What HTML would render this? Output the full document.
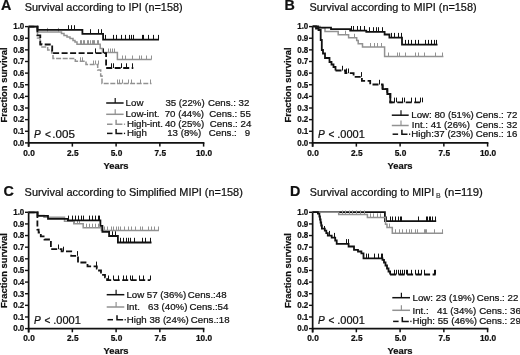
<!DOCTYPE html>
<html><head><meta charset="utf-8"><style>
html,body{margin:0;padding:0;background:#fff;overflow:hidden;}
svg{display:block;will-change:transform;}
text{font-family:"Liberation Sans", sans-serif;fill:#111;stroke:#111;stroke-width:0.22px;}
</style></head><body>
<svg width="520" height="355" viewBox="0 0 520 355">
<rect width="520" height="355" fill="#fff"/>
<g transform="translate(0,0)">
<line x1="28.65" y1="26.0" x2="28.65" y2="146.8" stroke="#111" stroke-width="1.7"/>
<line x1="27.849999999999998" y1="142.9" x2="204.4" y2="142.9" stroke="#111" stroke-width="1.8"/>
<line x1="25.0" y1="142.90" x2="28.65" y2="142.90" stroke="#111" stroke-width="1.4"/>
<text x="24.3" y="145.75" text-anchor="end" font-weight="bold" font-size="8.7" textLength="11.1" lengthAdjust="spacingAndGlyphs">0.0</text>
<line x1="25.0" y1="131.27" x2="28.65" y2="131.27" stroke="#111" stroke-width="1.4"/>
<text x="24.3" y="134.12" text-anchor="end" font-weight="bold" font-size="8.7" textLength="11.1" lengthAdjust="spacingAndGlyphs">0.1</text>
<line x1="25.0" y1="119.64" x2="28.65" y2="119.64" stroke="#111" stroke-width="1.4"/>
<text x="24.3" y="122.49" text-anchor="end" font-weight="bold" font-size="8.7" textLength="11.1" lengthAdjust="spacingAndGlyphs">0.2</text>
<line x1="25.0" y1="108.01" x2="28.65" y2="108.01" stroke="#111" stroke-width="1.4"/>
<text x="24.3" y="110.86" text-anchor="end" font-weight="bold" font-size="8.7" textLength="11.1" lengthAdjust="spacingAndGlyphs">0.3</text>
<line x1="25.0" y1="96.38" x2="28.65" y2="96.38" stroke="#111" stroke-width="1.4"/>
<text x="24.3" y="99.23" text-anchor="end" font-weight="bold" font-size="8.7" textLength="11.1" lengthAdjust="spacingAndGlyphs">0.4</text>
<line x1="25.0" y1="84.75" x2="28.65" y2="84.75" stroke="#111" stroke-width="1.4"/>
<text x="24.3" y="87.60" text-anchor="end" font-weight="bold" font-size="8.7" textLength="11.1" lengthAdjust="spacingAndGlyphs">0.5</text>
<line x1="25.0" y1="73.12" x2="28.65" y2="73.12" stroke="#111" stroke-width="1.4"/>
<text x="24.3" y="75.97" text-anchor="end" font-weight="bold" font-size="8.7" textLength="11.1" lengthAdjust="spacingAndGlyphs">0.6</text>
<line x1="25.0" y1="61.49" x2="28.65" y2="61.49" stroke="#111" stroke-width="1.4"/>
<text x="24.3" y="64.34" text-anchor="end" font-weight="bold" font-size="8.7" textLength="11.1" lengthAdjust="spacingAndGlyphs">0.7</text>
<line x1="25.0" y1="49.86" x2="28.65" y2="49.86" stroke="#111" stroke-width="1.4"/>
<text x="24.3" y="52.71" text-anchor="end" font-weight="bold" font-size="8.7" textLength="11.1" lengthAdjust="spacingAndGlyphs">0.8</text>
<line x1="25.0" y1="38.23" x2="28.65" y2="38.23" stroke="#111" stroke-width="1.4"/>
<text x="24.3" y="41.08" text-anchor="end" font-weight="bold" font-size="8.7" textLength="11.1" lengthAdjust="spacingAndGlyphs">0.9</text>
<line x1="25.0" y1="26.60" x2="28.65" y2="26.60" stroke="#111" stroke-width="1.4"/>
<text x="24.3" y="29.45" text-anchor="end" font-weight="bold" font-size="8.7" textLength="11.1" lengthAdjust="spacingAndGlyphs">1.0</text>
<line x1="28.60" y1="142.9" x2="28.60" y2="146.6" stroke="#111" stroke-width="1.5"/>
<text x="29.00" y="155.5" text-anchor="middle" font-weight="bold" font-size="8.3">0.0</text>
<line x1="72.35" y1="142.9" x2="72.35" y2="146.6" stroke="#111" stroke-width="1.5"/>
<text x="72.75" y="155.5" text-anchor="middle" font-weight="bold" font-size="8.3">2.5</text>
<line x1="116.10" y1="142.9" x2="116.10" y2="146.6" stroke="#111" stroke-width="1.5"/>
<text x="116.50" y="155.5" text-anchor="middle" font-weight="bold" font-size="8.3">5.0</text>
<line x1="159.85" y1="142.9" x2="159.85" y2="146.6" stroke="#111" stroke-width="1.5"/>
<text x="160.25" y="155.5" text-anchor="middle" font-weight="bold" font-size="8.3">7.5</text>
<line x1="203.60" y1="142.9" x2="203.60" y2="146.6" stroke="#111" stroke-width="1.5"/>
<text x="204.00" y="155.5" text-anchor="middle" font-weight="bold" font-size="8.3">10.0</text>
<text x="116.0" y="168.7" text-anchor="middle" font-weight="bold" font-size="9.4">Years</text>
<text transform="translate(6.8,84.9) rotate(-90)" text-anchor="middle" font-weight="bold" font-size="9.4">Fraction survival</text>
</g>
<text x="1.1" y="10.4" font-weight="bold" font-size="14.3">A</text>
<text x="24.7" y="11.0" font-size="10.6" textLength="157.9" lengthAdjust="spacingAndGlyphs">Survival according to IPI (n=158)</text>
<path d="M28.60,26.60 L37.50,26.60 L37.50,38.00 L40.00,38.00 L40.00,44.00 L42.00,44.00 L42.00,47.00 L47.70,47.00 L47.70,50.00 L51.70,50.00 L51.70,53.00 L53.00,53.00 L53.00,58.50 L75.30,58.50 L75.30,61.30 L86.00,61.30 L86.00,64.50 L97.70,64.50 L97.70,70.00 L100.70,70.00 L100.70,76.00 L102.00,76.00 L102.00,83.50 L151.50,83.50" fill="none" stroke="#929292" stroke-width="1.5" stroke-dasharray="5 1.6"/>
<path d="M80.50,61.30 v-4.0 M82.50,61.30 v-4.0" fill="none" stroke="#929292" stroke-width="1.0"/>
<path d="M93.50,64.50 v-4.0 M95.50,64.50 v-4.0 M98.50,64.50 v-4.0" fill="none" stroke="#929292" stroke-width="1.0"/>
<path d="M117.50,83.50 v-4.0 M119.50,83.50 v-4.0 M122.50,83.50 v-4.0 M128.50,83.50 v-4.0 M131.50,83.50 v-4.0 M140.50,83.50 v-4.0 M150.50,83.50 v-4.0" fill="none" stroke="#929292" stroke-width="1.0"/>
<path d="M28.60,26.60 L37.50,26.60 L37.50,31.90 L61.50,31.90 L61.50,33.50 L64.00,33.50 L64.00,35.50 L67.00,35.50 L67.00,37.00 L70.00,37.00 L70.00,38.50 L73.00,38.50 L73.00,40.50 L75.00,40.50 L75.00,42.00 L77.00,42.00 L77.00,44.20 L100.20,44.20 L100.20,48.50 L102.50,48.50 L102.50,52.50 L117.40,52.50 L117.40,59.50 L151.50,59.50" fill="none" stroke="#929292" stroke-width="1.5"/>
<path d="M47.50,31.90 v-4.0 M58.50,31.90 v-4.0" fill="none" stroke="#929292" stroke-width="1.0"/>
<path d="M80.50,44.20 v-4.0 M81.50,44.20 v-4.0 M83.50,44.20 v-4.0 M84.50,44.20 v-4.0 M87.50,44.20 v-4.0 M88.50,44.20 v-4.0 M90.50,44.20 v-4.0 M92.50,44.20 v-4.0 M93.50,44.20 v-4.0 M94.50,44.20 v-4.0 M97.50,44.20 v-4.0 M98.50,44.20 v-4.0" fill="none" stroke="#929292" stroke-width="1.0"/>
<path d="M108.50,52.50 v-4.0 M110.50,52.50 v-4.0 M112.50,52.50 v-4.0 M114.50,52.50 v-4.0" fill="none" stroke="#929292" stroke-width="1.0"/>
<path d="M122.50,59.50 v-4.0 M125.50,59.50 v-4.0 M132.50,59.50 v-4.0 M139.50,59.50 v-4.0 M141.50,59.50 v-4.0 M146.50,59.50 v-4.0 M151.50,59.50 v-4.0" fill="none" stroke="#929292" stroke-width="1.0"/>
<path d="M28.60,26.60 L37.40,26.60 L37.40,35.30 L40.30,35.30 L40.30,44.50 L52.20,44.50 L52.20,53.10 L106.10,53.10 L106.10,68.00 L133.30,68.00" fill="none" stroke="#111" stroke-width="1.8" stroke-dasharray="6 2.5"/>
<path d="M95.50,53.10 v-4.7 M103.50,53.10 v-4.7" fill="none" stroke="#111" stroke-width="1.0"/>
<path d="M111.50,68.00 v-4.7 M113.50,68.00 v-4.7 M121.50,68.00 v-4.7 M126.50,68.00 v-4.7 M132.50,68.00 v-4.7" fill="none" stroke="#111" stroke-width="1.0"/>
<path d="M28.60,26.60 L37.50,26.60 L37.50,29.90 L82.40,29.90 L82.40,33.90 L103.10,33.90 L103.10,39.60 L159.00,39.60" fill="none" stroke="#111" stroke-width="1.8"/>
<path d="M68.50,29.90 v-4.7 M71.50,29.90 v-4.7 M74.50,29.90 v-4.7" fill="none" stroke="#111" stroke-width="1.0"/>
<path d="M90.50,33.90 v-4.7 M98.50,33.90 v-4.7 M101.50,33.90 v-4.7" fill="none" stroke="#111" stroke-width="1.0"/>
<path d="M105.50,39.60 v-4.7 M113.50,39.60 v-4.7 M116.50,39.60 v-4.7 M121.50,39.60 v-4.7 M125.50,39.60 v-4.7 M129.50,39.60 v-4.7 M131.50,39.60 v-4.7 M133.50,39.60 v-4.7 M142.50,39.60 v-4.7 M143.50,39.60 v-4.7 M148.50,39.60 v-4.7 M153.50,39.60 v-4.7 M158.50,39.60 v-4.7" fill="none" stroke="#111" stroke-width="1.0"/>
<line x1="106.2" y1="103.0" x2="123.6" y2="103.0" stroke="#111" stroke-width="1.5"/>
<line x1="115.2" y1="103.0" x2="115.2" y2="98.0" stroke="#111" stroke-width="1.2"/>
<text transform="translate(125.6,106.3) scale(1.0,1)" font-size="9.7">Low</text>
<text transform="translate(165.4,106.3) scale(1.0,1)" font-size="9.7">35 (22%)</text>
<text transform="translate(207.9,106.3) scale(1.0,1)" font-size="9.7">Cens.: 32</text>
<line x1="106.2" y1="114.3" x2="123.6" y2="114.3" stroke="#929292" stroke-width="1.5"/>
<line x1="115.2" y1="114.3" x2="115.2" y2="109.3" stroke="#929292" stroke-width="1.2"/>
<text transform="translate(125.6,116.9) scale(1.0,1)" font-size="9.7">Low-int.</text>
<text transform="translate(164.7,116.9) scale(1.0,1)" font-size="9.7">70 (44%)</text>
<text transform="translate(209.3,116.9) scale(1.0,1)" font-size="9.7">Cens.: 55</text>
<line x1="107.0" y1="124.25" x2="112.5" y2="124.25" stroke="#929292" stroke-width="1.5"/>
<path d="M116.10000000000001,119.85 V124.25 H122.39999999999999" fill="none" stroke="#929292" stroke-width="1.5"/>
<rect x="123.89999999999999" y="123.55" width="1.2" height="1.4" fill="#929292"/>
<text transform="translate(126.9,126.5) scale(1.0,1)" font-size="9.7">High-int.</text>
<text transform="translate(164.9,126.5) scale(1.0,1)" font-size="9.7">40 (25%)</text>
<text transform="translate(209.8,126.5) scale(1.0,1)" font-size="9.7">Cens.: 24</text>
<line x1="107.0" y1="133.4" x2="112.5" y2="133.4" stroke="#111" stroke-width="1.5"/>
<path d="M116.10000000000001,129.0 V133.4 H122.39999999999999" fill="none" stroke="#111" stroke-width="1.5"/>
<rect x="123.89999999999999" y="132.70000000000002" width="1.2" height="1.4" fill="#111"/>
<text transform="translate(126.9,136.1) scale(1.0,1)" font-size="9.7">High</text>
<text transform="translate(167.2,136.1) scale(1.0,1)" font-size="9.7">13 (8%)</text>
<text transform="translate(208.8,136.1) scale(1.0,1)" font-size="9.7">Cens.:</text>
<text transform="translate(250.1,136.1) scale(1.0,1)" font-size="9.7" text-anchor="end">9</text>
<text x="34.0" y="138.4" font-size="10.1" font-style="italic">P</text><text x="44.9" y="138.4" font-size="10.1">&lt;</text><text x="52.3" y="138.4" font-size="10.4" textLength="22.6" lengthAdjust="spacingAndGlyphs">.005</text>
<g transform="translate(284.0,0)">
<line x1="28.65" y1="26.0" x2="28.65" y2="146.8" stroke="#111" stroke-width="1.7"/>
<line x1="27.849999999999998" y1="142.9" x2="204.4" y2="142.9" stroke="#111" stroke-width="1.8"/>
<line x1="25.0" y1="142.90" x2="28.65" y2="142.90" stroke="#111" stroke-width="1.4"/>
<text x="24.3" y="145.75" text-anchor="end" font-weight="bold" font-size="8.7" textLength="11.1" lengthAdjust="spacingAndGlyphs">0.0</text>
<line x1="25.0" y1="131.27" x2="28.65" y2="131.27" stroke="#111" stroke-width="1.4"/>
<text x="24.3" y="134.12" text-anchor="end" font-weight="bold" font-size="8.7" textLength="11.1" lengthAdjust="spacingAndGlyphs">0.1</text>
<line x1="25.0" y1="119.64" x2="28.65" y2="119.64" stroke="#111" stroke-width="1.4"/>
<text x="24.3" y="122.49" text-anchor="end" font-weight="bold" font-size="8.7" textLength="11.1" lengthAdjust="spacingAndGlyphs">0.2</text>
<line x1="25.0" y1="108.01" x2="28.65" y2="108.01" stroke="#111" stroke-width="1.4"/>
<text x="24.3" y="110.86" text-anchor="end" font-weight="bold" font-size="8.7" textLength="11.1" lengthAdjust="spacingAndGlyphs">0.3</text>
<line x1="25.0" y1="96.38" x2="28.65" y2="96.38" stroke="#111" stroke-width="1.4"/>
<text x="24.3" y="99.23" text-anchor="end" font-weight="bold" font-size="8.7" textLength="11.1" lengthAdjust="spacingAndGlyphs">0.4</text>
<line x1="25.0" y1="84.75" x2="28.65" y2="84.75" stroke="#111" stroke-width="1.4"/>
<text x="24.3" y="87.60" text-anchor="end" font-weight="bold" font-size="8.7" textLength="11.1" lengthAdjust="spacingAndGlyphs">0.5</text>
<line x1="25.0" y1="73.12" x2="28.65" y2="73.12" stroke="#111" stroke-width="1.4"/>
<text x="24.3" y="75.97" text-anchor="end" font-weight="bold" font-size="8.7" textLength="11.1" lengthAdjust="spacingAndGlyphs">0.6</text>
<line x1="25.0" y1="61.49" x2="28.65" y2="61.49" stroke="#111" stroke-width="1.4"/>
<text x="24.3" y="64.34" text-anchor="end" font-weight="bold" font-size="8.7" textLength="11.1" lengthAdjust="spacingAndGlyphs">0.7</text>
<line x1="25.0" y1="49.86" x2="28.65" y2="49.86" stroke="#111" stroke-width="1.4"/>
<text x="24.3" y="52.71" text-anchor="end" font-weight="bold" font-size="8.7" textLength="11.1" lengthAdjust="spacingAndGlyphs">0.8</text>
<line x1="25.0" y1="38.23" x2="28.65" y2="38.23" stroke="#111" stroke-width="1.4"/>
<text x="24.3" y="41.08" text-anchor="end" font-weight="bold" font-size="8.7" textLength="11.1" lengthAdjust="spacingAndGlyphs">0.9</text>
<line x1="25.0" y1="26.60" x2="28.65" y2="26.60" stroke="#111" stroke-width="1.4"/>
<text x="24.3" y="29.45" text-anchor="end" font-weight="bold" font-size="8.7" textLength="11.1" lengthAdjust="spacingAndGlyphs">1.0</text>
<line x1="28.60" y1="142.9" x2="28.60" y2="146.6" stroke="#111" stroke-width="1.5"/>
<text x="29.00" y="155.5" text-anchor="middle" font-weight="bold" font-size="8.3">0.0</text>
<line x1="72.35" y1="142.9" x2="72.35" y2="146.6" stroke="#111" stroke-width="1.5"/>
<text x="72.75" y="155.5" text-anchor="middle" font-weight="bold" font-size="8.3">2.5</text>
<line x1="116.10" y1="142.9" x2="116.10" y2="146.6" stroke="#111" stroke-width="1.5"/>
<text x="116.50" y="155.5" text-anchor="middle" font-weight="bold" font-size="8.3">5.0</text>
<line x1="159.85" y1="142.9" x2="159.85" y2="146.6" stroke="#111" stroke-width="1.5"/>
<text x="160.25" y="155.5" text-anchor="middle" font-weight="bold" font-size="8.3">7.5</text>
<line x1="203.60" y1="142.9" x2="203.60" y2="146.6" stroke="#111" stroke-width="1.5"/>
<text x="204.00" y="155.5" text-anchor="middle" font-weight="bold" font-size="8.3">10.0</text>
<text x="116.0" y="168.7" text-anchor="middle" font-weight="bold" font-size="9.4">Years</text>
<text transform="translate(6.8,84.9) rotate(-90)" text-anchor="middle" font-weight="bold" font-size="9.4">Fraction survival</text>
</g>
<text x="284.4" y="10.0" font-weight="bold" font-size="14.3">B</text>
<text x="309.4" y="10.8" font-size="10.6" textLength="167.2" lengthAdjust="spacingAndGlyphs">Survival according to MIPI (n=158)</text>
<path d="M312.60,26.40 L320.00,26.40 L320.00,27.80 L325.00,27.80 L325.00,31.50 L338.20,31.50 L338.20,34.70 L348.60,34.70 L348.60,37.80 L356.70,37.80 L356.70,40.60 L358.20,40.60 L358.20,43.70 L362.50,43.70 L362.50,47.00 L384.60,47.00 L384.60,56.50 L443.40,56.50" fill="none" stroke="#929292" stroke-width="1.5"/>
<path d="M345.50,34.70 v-4.0" fill="none" stroke="#929292" stroke-width="1.0"/>
<path d="M354.50,37.80 v-4.0" fill="none" stroke="#929292" stroke-width="1.0"/>
<path d="M370.50,47.00 v-4.0 M374.50,47.00 v-4.0 M377.50,47.00 v-4.0 M381.50,47.00 v-4.0" fill="none" stroke="#929292" stroke-width="1.0"/>
<path d="M388.50,56.50 v-4.0 M397.50,56.50 v-4.0 M399.50,56.50 v-4.0 M405.50,56.50 v-4.0 M415.50,56.50 v-4.0 M418.50,56.50 v-4.0 M424.50,56.50 v-4.0 M435.50,56.50 v-4.0 M442.50,56.50 v-4.0" fill="none" stroke="#929292" stroke-width="1.0"/>
<path d="M312.60,26.40 L316.00,26.40 L316.00,28.50 L318.50,28.50 L318.50,30.00 L320.70,30.00 L320.70,40.00 L321.80,40.00 L321.80,50.00 L323.00,50.00 L323.00,53.50 L325.00,53.50 L325.00,58.00 L329.50,58.00 L329.50,62.00 L331.50,62.00 L331.50,64.50 L333.50,64.50 L333.50,67.00 L335.50,67.00 L335.50,70.50" fill="none" stroke="#111" stroke-width="1.8"/>
<path d="M335.50,70.50 L345.30,70.50 L345.30,73.20 L353.60,73.20 L353.60,76.80 L361.90,76.80 L361.90,80.90 L370.20,80.90 L370.20,84.50 L382.60,84.50 L382.60,89.20 L387.30,89.20 L387.30,94.00 L390.30,94.00 L390.30,102.30 L422.50,102.30" fill="none" stroke="#111" stroke-width="1.8" stroke-dasharray="6 2.5"/>
<path d="M342.50,70.50 v-4.7" fill="none" stroke="#111" stroke-width="1.0"/>
<path d="M346.50,73.20 v-4.7 M348.50,73.20 v-4.7" fill="none" stroke="#111" stroke-width="1.0"/>
<path d="M361.50,76.80 v-4.7" fill="none" stroke="#111" stroke-width="1.0"/>
<path d="M379.50,84.50 v-4.7" fill="none" stroke="#111" stroke-width="1.0"/>
<path d="M394.50,102.30 v-4.7 M396.50,102.30 v-4.7 M402.50,102.30 v-4.7 M404.50,102.30 v-4.7 M411.50,102.30 v-4.7 M415.50,102.30 v-4.7 M420.50,102.30 v-4.7 M422.50,102.30 v-4.7" fill="none" stroke="#111" stroke-width="1.0"/>
<path d="M382.60,84.50 L382.60,89.20 L387.30,89.20 L387.30,94.00 L390.30,94.00 L390.30,102.30 L392.50,102.30" fill="none" stroke="#111" stroke-width="1.8"/>
<path d="M312.60,26.40 L318.00,26.40 L318.00,27.60 L331.00,27.60 L331.00,29.10 L350.20,29.10 L350.20,30.70 L366.30,30.70 L366.30,31.90 L384.60,31.90 L384.60,34.50 L389.40,34.50 L389.40,37.60 L402.00,37.60 L402.00,44.60 L437.50,44.60" fill="none" stroke="#111" stroke-width="1.8"/>
<path d="M351.50,30.70 v-4.7 M353.50,30.70 v-4.7 M357.50,30.70 v-4.7 M360.50,30.70 v-4.7 M364.50,30.70 v-4.7" fill="none" stroke="#111" stroke-width="1.0"/>
<path d="M369.50,31.90 v-4.7 M373.50,31.90 v-4.7 M376.50,31.90 v-4.7 M378.50,31.90 v-4.7 M382.50,31.90 v-4.7" fill="none" stroke="#111" stroke-width="1.0"/>
<path d="M391.50,37.60 v-4.7 M394.50,37.60 v-4.7 M398.50,37.60 v-4.7 M401.50,37.60 v-4.7" fill="none" stroke="#111" stroke-width="1.0"/>
<path d="M405.50,44.60 v-4.7 M408.50,44.60 v-4.7 M411.50,44.60 v-4.7 M415.50,44.60 v-4.7 M418.50,44.60 v-4.7 M425.50,44.60 v-4.7 M428.50,44.60 v-4.7 M431.50,44.60 v-4.7 M434.50,44.60 v-4.7 M436.50,44.60 v-4.7" fill="none" stroke="#111" stroke-width="1.0"/>
<line x1="391.8" y1="115.2" x2="408.7" y2="115.2" stroke="#111" stroke-width="1.5"/>
<line x1="401.0" y1="115.2" x2="401.0" y2="110.2" stroke="#111" stroke-width="1.2"/>
<text transform="translate(411.3,118.3) scale(1.0,1)" font-size="9.7">Low: 80 (51%)</text>
<text transform="translate(475.8,118.3) scale(1.0,1)" font-size="9.7">Cens.: 72</text>
<line x1="391.8" y1="125.5" x2="408.7" y2="125.5" stroke="#929292" stroke-width="1.5"/>
<line x1="401.0" y1="125.5" x2="401.0" y2="120.5" stroke="#929292" stroke-width="1.2"/>
<text transform="translate(411.8,128.4) scale(1.0,1)" font-size="9.7">Int.: 41 (26%)</text>
<text transform="translate(475.8,128.4) scale(1.0,1)" font-size="9.7">Cens.: 32</text>
<line x1="392.6" y1="134.2" x2="398.1" y2="134.2" stroke="#111" stroke-width="1.5"/>
<path d="M401.9,129.79999999999998 V134.2 H407.5" fill="none" stroke="#111" stroke-width="1.5"/>
<rect x="409.0" y="133.5" width="1.2" height="1.4" fill="#111"/>
<text transform="translate(411.3,137.0) scale(1.0,1)" font-size="9.7">High:37 (23%)</text>
<text transform="translate(475.8,137.0) scale(1.0,1)" font-size="9.7">Cens.: 16</text>
<text x="318.0" y="138.4" font-size="10.1" font-style="italic">P</text><text x="328.4" y="138.4" font-size="10.1">&lt;</text><text x="337.2" y="138.4" font-size="10.4" textLength="27.6" lengthAdjust="spacingAndGlyphs">.0001</text>
<g transform="translate(0,185.7)">
<line x1="28.65" y1="26.0" x2="28.65" y2="146.8" stroke="#111" stroke-width="1.7"/>
<line x1="27.849999999999998" y1="142.9" x2="204.4" y2="142.9" stroke="#111" stroke-width="1.8"/>
<line x1="25.0" y1="142.90" x2="28.65" y2="142.90" stroke="#111" stroke-width="1.4"/>
<text x="24.3" y="145.75" text-anchor="end" font-weight="bold" font-size="8.7" textLength="11.1" lengthAdjust="spacingAndGlyphs">0.0</text>
<line x1="25.0" y1="131.27" x2="28.65" y2="131.27" stroke="#111" stroke-width="1.4"/>
<text x="24.3" y="134.12" text-anchor="end" font-weight="bold" font-size="8.7" textLength="11.1" lengthAdjust="spacingAndGlyphs">0.1</text>
<line x1="25.0" y1="119.64" x2="28.65" y2="119.64" stroke="#111" stroke-width="1.4"/>
<text x="24.3" y="122.49" text-anchor="end" font-weight="bold" font-size="8.7" textLength="11.1" lengthAdjust="spacingAndGlyphs">0.2</text>
<line x1="25.0" y1="108.01" x2="28.65" y2="108.01" stroke="#111" stroke-width="1.4"/>
<text x="24.3" y="110.86" text-anchor="end" font-weight="bold" font-size="8.7" textLength="11.1" lengthAdjust="spacingAndGlyphs">0.3</text>
<line x1="25.0" y1="96.38" x2="28.65" y2="96.38" stroke="#111" stroke-width="1.4"/>
<text x="24.3" y="99.23" text-anchor="end" font-weight="bold" font-size="8.7" textLength="11.1" lengthAdjust="spacingAndGlyphs">0.4</text>
<line x1="25.0" y1="84.75" x2="28.65" y2="84.75" stroke="#111" stroke-width="1.4"/>
<text x="24.3" y="87.60" text-anchor="end" font-weight="bold" font-size="8.7" textLength="11.1" lengthAdjust="spacingAndGlyphs">0.5</text>
<line x1="25.0" y1="73.12" x2="28.65" y2="73.12" stroke="#111" stroke-width="1.4"/>
<text x="24.3" y="75.97" text-anchor="end" font-weight="bold" font-size="8.7" textLength="11.1" lengthAdjust="spacingAndGlyphs">0.6</text>
<line x1="25.0" y1="61.49" x2="28.65" y2="61.49" stroke="#111" stroke-width="1.4"/>
<text x="24.3" y="64.34" text-anchor="end" font-weight="bold" font-size="8.7" textLength="11.1" lengthAdjust="spacingAndGlyphs">0.7</text>
<line x1="25.0" y1="49.86" x2="28.65" y2="49.86" stroke="#111" stroke-width="1.4"/>
<text x="24.3" y="52.71" text-anchor="end" font-weight="bold" font-size="8.7" textLength="11.1" lengthAdjust="spacingAndGlyphs">0.8</text>
<line x1="25.0" y1="38.23" x2="28.65" y2="38.23" stroke="#111" stroke-width="1.4"/>
<text x="24.3" y="41.08" text-anchor="end" font-weight="bold" font-size="8.7" textLength="11.1" lengthAdjust="spacingAndGlyphs">0.9</text>
<line x1="25.0" y1="26.60" x2="28.65" y2="26.60" stroke="#111" stroke-width="1.4"/>
<text x="24.3" y="29.45" text-anchor="end" font-weight="bold" font-size="8.7" textLength="11.1" lengthAdjust="spacingAndGlyphs">1.0</text>
<line x1="28.60" y1="142.9" x2="28.60" y2="146.6" stroke="#111" stroke-width="1.5"/>
<text x="29.00" y="155.5" text-anchor="middle" font-weight="bold" font-size="8.3">0.0</text>
<line x1="72.35" y1="142.9" x2="72.35" y2="146.6" stroke="#111" stroke-width="1.5"/>
<text x="72.75" y="155.5" text-anchor="middle" font-weight="bold" font-size="8.3">2.5</text>
<line x1="116.10" y1="142.9" x2="116.10" y2="146.6" stroke="#111" stroke-width="1.5"/>
<text x="116.50" y="155.5" text-anchor="middle" font-weight="bold" font-size="8.3">5.0</text>
<line x1="159.85" y1="142.9" x2="159.85" y2="146.6" stroke="#111" stroke-width="1.5"/>
<text x="160.25" y="155.5" text-anchor="middle" font-weight="bold" font-size="8.3">7.5</text>
<line x1="203.60" y1="142.9" x2="203.60" y2="146.6" stroke="#111" stroke-width="1.5"/>
<text x="204.00" y="155.5" text-anchor="middle" font-weight="bold" font-size="8.3">10.0</text>
<text x="116.0" y="168.7" text-anchor="middle" font-weight="bold" font-size="9.4">Years</text>
<text transform="translate(6.8,84.9) rotate(-90)" text-anchor="middle" font-weight="bold" font-size="9.4">Fraction survival</text>
</g>
<text x="3.4" y="195.8" font-weight="bold" font-size="14.3">C</text>
<text x="24.6" y="196.2" font-size="10.6" textLength="218.2" lengthAdjust="spacingAndGlyphs">Survival according to Simplified MIPI (n=158)</text>
<path d="M28.60,212.30 L37.40,212.30 L37.40,229.70 L38.60,229.70 L38.60,232.50 L40.80,232.50 L40.80,236.40 L44.50,236.40 L44.50,239.50 L50.90,239.50 L50.90,249.20 L61.60,249.20 L61.60,251.40 L71.20,251.40 L71.20,255.80 L78.00,255.80 L78.00,262.50 L87.50,262.50 L87.50,266.30 L96.80,266.30 L96.80,268.60 L99.00,268.60 L99.00,270.50 L101.00,270.50 L101.00,272.60 L103.00,272.60 L103.00,274.80 L105.00,274.80 L105.00,277.30 L107.10,277.30 L107.10,280.20 L150.20,280.20" fill="none" stroke="#111" stroke-width="1.8" stroke-dasharray="6 2.5"/>
<path d="M58.50,249.20 v-4.7" fill="none" stroke="#111" stroke-width="1.0"/>
<path d="M63.50,251.40 v-4.7" fill="none" stroke="#111" stroke-width="1.0"/>
<path d="M77.50,255.80 v-4.7" fill="none" stroke="#111" stroke-width="1.0"/>
<path d="M96.50,266.30 v-4.7" fill="none" stroke="#111" stroke-width="1.0"/>
<path d="M108.50,280.20 v-4.7 M113.50,280.20 v-4.7 M118.50,280.20 v-4.7 M123.50,280.20 v-4.7 M126.50,280.20 v-4.7 M130.50,280.20 v-4.7 M132.50,280.20 v-4.7 M139.50,280.20 v-4.7 M143.50,280.20 v-4.7 M150.50,280.20 v-4.7" fill="none" stroke="#111" stroke-width="1.0"/>
<path d="M28.60,212.30 L37.60,212.30 L37.60,215.50 L44.00,215.50 L44.00,217.20 L64.50,217.20 L64.50,221.30 L73.80,221.30 L73.80,223.80 L83.20,223.80 L83.20,227.70 L101.40,227.70 L101.40,230.50 L159.00,230.50" fill="none" stroke="#929292" stroke-width="1.5"/>
<path d="M74.50,223.80 v-4.0 M77.50,223.80 v-4.0 M79.50,223.80 v-4.0" fill="none" stroke="#929292" stroke-width="1.0"/>
<path d="M86.50,227.70 v-4.0 M89.50,227.70 v-4.0 M92.50,227.70 v-4.0 M95.50,227.70 v-4.0 M98.50,227.70 v-4.0" fill="none" stroke="#929292" stroke-width="1.0"/>
<path d="M104.50,230.50 v-4.0 M107.50,230.50 v-4.0 M111.50,230.50 v-4.0 M113.50,230.50 v-4.0 M116.50,230.50 v-4.0 M118.50,230.50 v-4.0 M120.50,230.50 v-4.0 M124.50,230.50 v-4.0 M128.50,230.50 v-4.0 M131.50,230.50 v-4.0 M135.50,230.50 v-4.0 M140.50,230.50 v-4.0 M142.50,230.50 v-4.0 M148.50,230.50 v-4.0 M151.50,230.50 v-4.0 M154.50,230.50 v-4.0 M158.50,230.50 v-4.0" fill="none" stroke="#929292" stroke-width="1.0"/>
<path d="M28.60,212.30 L37.60,212.30 L37.60,215.80 L48.00,215.80 L48.00,218.90 L67.90,218.90 L67.90,220.30 L100.40,220.30 L100.40,225.80 L102.40,225.80 L102.40,231.80 L109.10,231.80 L109.10,236.00 L117.90,236.00 L117.90,242.50 L151.50,242.50" fill="none" stroke="#111" stroke-width="1.8"/>
<path d="M68.50,220.30 v-4.7 M72.50,220.30 v-4.7 M75.50,220.30 v-4.7 M78.50,220.30 v-4.7 M81.50,220.30 v-4.7 M83.50,220.30 v-4.7 M89.50,220.30 v-4.7 M92.50,220.30 v-4.7 M95.50,220.30 v-4.7 M98.50,220.30 v-4.7 M99.50,220.30 v-4.7" fill="none" stroke="#111" stroke-width="1.0"/>
<path d="M112.50,236.00 v-4.7 M115.50,236.00 v-4.7" fill="none" stroke="#111" stroke-width="1.0"/>
<path d="M120.50,242.50 v-4.7 M123.50,242.50 v-4.7 M126.50,242.50 v-4.7 M128.50,242.50 v-4.7 M130.50,242.50 v-4.7 M134.50,242.50 v-4.7 M142.50,242.50 v-4.7 M145.50,242.50 v-4.7 M150.50,242.50 v-4.7" fill="none" stroke="#111" stroke-width="1.0"/>
<line x1="106.7" y1="294.7" x2="124.3" y2="294.7" stroke="#111" stroke-width="1.5"/>
<line x1="116.1" y1="294.7" x2="116.1" y2="289.7" stroke="#111" stroke-width="1.2"/>
<text transform="translate(126.4,297.8) scale(1.0,1)" font-size="9.7">Low 57 (36%)</text>
<text transform="translate(187.8,297.8) scale(1.0,1)" font-size="9.7">Cens.:48</text>
<line x1="106.7" y1="307.0" x2="124.3" y2="307.0" stroke="#929292" stroke-width="1.5"/>
<line x1="116.1" y1="307.0" x2="116.1" y2="302.0" stroke="#929292" stroke-width="1.2"/>
<text transform="translate(126.4,309.7) scale(1.0,1)" font-size="9.7">Int.</text>
<text transform="translate(148.1,309.7) scale(1.0,1)" font-size="9.7">63 (40%)</text>
<text transform="translate(189.6,309.7) scale(1.0,1)" font-size="9.7">Cens.:54</text>
<line x1="107.5" y1="319.7" x2="113.0" y2="319.7" stroke="#111" stroke-width="1.5"/>
<path d="M117.0,315.3 V319.7 H123.1" fill="none" stroke="#111" stroke-width="1.5"/>
<rect x="124.6" y="319.0" width="1.2" height="1.4" fill="#111"/>
<text transform="translate(126.8,323.0) scale(1.0,1)" font-size="9.7">High 38 (24%)</text>
<text transform="translate(190.8,323.0) scale(1.0,1)" font-size="9.7">Cens.:18</text>
<text x="34.0" y="324.1" font-size="10.1" font-style="italic">P</text><text x="44.4" y="324.1" font-size="10.1">&lt;</text><text x="53.2" y="324.1" font-size="10.4" textLength="27.6" lengthAdjust="spacingAndGlyphs">.0001</text>
<g transform="translate(284.0,185.7)">
<line x1="28.65" y1="26.0" x2="28.65" y2="146.8" stroke="#111" stroke-width="1.7"/>
<line x1="27.849999999999998" y1="142.9" x2="204.4" y2="142.9" stroke="#111" stroke-width="1.8"/>
<line x1="25.0" y1="142.90" x2="28.65" y2="142.90" stroke="#111" stroke-width="1.4"/>
<text x="24.3" y="145.75" text-anchor="end" font-weight="bold" font-size="8.7" textLength="11.1" lengthAdjust="spacingAndGlyphs">0.0</text>
<line x1="25.0" y1="131.27" x2="28.65" y2="131.27" stroke="#111" stroke-width="1.4"/>
<text x="24.3" y="134.12" text-anchor="end" font-weight="bold" font-size="8.7" textLength="11.1" lengthAdjust="spacingAndGlyphs">0.1</text>
<line x1="25.0" y1="119.64" x2="28.65" y2="119.64" stroke="#111" stroke-width="1.4"/>
<text x="24.3" y="122.49" text-anchor="end" font-weight="bold" font-size="8.7" textLength="11.1" lengthAdjust="spacingAndGlyphs">0.2</text>
<line x1="25.0" y1="108.01" x2="28.65" y2="108.01" stroke="#111" stroke-width="1.4"/>
<text x="24.3" y="110.86" text-anchor="end" font-weight="bold" font-size="8.7" textLength="11.1" lengthAdjust="spacingAndGlyphs">0.3</text>
<line x1="25.0" y1="96.38" x2="28.65" y2="96.38" stroke="#111" stroke-width="1.4"/>
<text x="24.3" y="99.23" text-anchor="end" font-weight="bold" font-size="8.7" textLength="11.1" lengthAdjust="spacingAndGlyphs">0.4</text>
<line x1="25.0" y1="84.75" x2="28.65" y2="84.75" stroke="#111" stroke-width="1.4"/>
<text x="24.3" y="87.60" text-anchor="end" font-weight="bold" font-size="8.7" textLength="11.1" lengthAdjust="spacingAndGlyphs">0.5</text>
<line x1="25.0" y1="73.12" x2="28.65" y2="73.12" stroke="#111" stroke-width="1.4"/>
<text x="24.3" y="75.97" text-anchor="end" font-weight="bold" font-size="8.7" textLength="11.1" lengthAdjust="spacingAndGlyphs">0.6</text>
<line x1="25.0" y1="61.49" x2="28.65" y2="61.49" stroke="#111" stroke-width="1.4"/>
<text x="24.3" y="64.34" text-anchor="end" font-weight="bold" font-size="8.7" textLength="11.1" lengthAdjust="spacingAndGlyphs">0.7</text>
<line x1="25.0" y1="49.86" x2="28.65" y2="49.86" stroke="#111" stroke-width="1.4"/>
<text x="24.3" y="52.71" text-anchor="end" font-weight="bold" font-size="8.7" textLength="11.1" lengthAdjust="spacingAndGlyphs">0.8</text>
<line x1="25.0" y1="38.23" x2="28.65" y2="38.23" stroke="#111" stroke-width="1.4"/>
<text x="24.3" y="41.08" text-anchor="end" font-weight="bold" font-size="8.7" textLength="11.1" lengthAdjust="spacingAndGlyphs">0.9</text>
<line x1="25.0" y1="26.60" x2="28.65" y2="26.60" stroke="#111" stroke-width="1.4"/>
<text x="24.3" y="29.45" text-anchor="end" font-weight="bold" font-size="8.7" textLength="11.1" lengthAdjust="spacingAndGlyphs">1.0</text>
<line x1="28.60" y1="142.9" x2="28.60" y2="146.6" stroke="#111" stroke-width="1.5"/>
<text x="29.00" y="155.5" text-anchor="middle" font-weight="bold" font-size="8.3">0.0</text>
<line x1="72.35" y1="142.9" x2="72.35" y2="146.6" stroke="#111" stroke-width="1.5"/>
<text x="72.75" y="155.5" text-anchor="middle" font-weight="bold" font-size="8.3">2.5</text>
<line x1="116.10" y1="142.9" x2="116.10" y2="146.6" stroke="#111" stroke-width="1.5"/>
<text x="116.50" y="155.5" text-anchor="middle" font-weight="bold" font-size="8.3">5.0</text>
<line x1="159.85" y1="142.9" x2="159.85" y2="146.6" stroke="#111" stroke-width="1.5"/>
<text x="160.25" y="155.5" text-anchor="middle" font-weight="bold" font-size="8.3">7.5</text>
<line x1="203.60" y1="142.9" x2="203.60" y2="146.6" stroke="#111" stroke-width="1.5"/>
<text x="204.00" y="155.5" text-anchor="middle" font-weight="bold" font-size="8.3">10.0</text>
<text x="116.0" y="168.7" text-anchor="middle" font-weight="bold" font-size="9.4">Years</text>
<text transform="translate(6.8,84.9) rotate(-90)" text-anchor="middle" font-weight="bold" font-size="9.4">Fraction survival</text>
</g>
<text x="289.9" y="195.6" font-weight="bold" font-size="14.3">D</text>
<text x="309.8" y="196.2" font-size="10.6" textLength="124.4" lengthAdjust="spacingAndGlyphs">Survival according to MIPI</text>
<text x="436.1" y="198.4" font-size="7" style="fill:#444;stroke:#444">B</text>
<text x="444.3" y="196.2" font-size="10.6" textLength="38.6" lengthAdjust="spacingAndGlyphs">(n=119)</text>
<path d="M312.60,212.20 L384.90,212.20 L384.90,221.20 L436.20,221.20" fill="none" stroke="#111" stroke-width="1.8"/>
<path d="M386.50,221.20 v-4.7 M390.50,221.20 v-4.7 M392.50,221.20 v-4.7 M395.50,221.20 v-4.7 M398.50,221.20 v-4.7 M400.50,221.20 v-4.7 M401.50,221.20 v-4.7 M418.50,221.20 v-4.7 M426.50,221.20 v-4.7 M427.50,221.20 v-4.7 M429.50,221.20 v-4.7 M430.50,221.20 v-4.7 M432.50,221.20 v-4.7 M435.50,221.20 v-4.7" fill="none" stroke="#111" stroke-width="1.0"/>
<path d="M312.60,212.20 L338.70,212.20 L338.70,214.50 L367.40,214.50 L367.40,217.40 L385.50,217.40 L385.50,224.20 L387.00,224.20 L387.00,227.50 L392.30,227.50 L392.30,233.30 L443.10,233.30" fill="none" stroke="#929292" stroke-width="1.5"/>
<path d="M342.50,214.50 v-4.0 M345.50,214.50 v-4.0 M349.50,214.50 v-4.0 M352.50,214.50 v-4.0 M356.50,214.50 v-4.0 M360.50,214.50 v-4.0 M364.50,214.50 v-4.0" fill="none" stroke="#929292" stroke-width="1.0"/>
<path d="M370.50,217.40 v-4.0 M373.50,217.40 v-4.0 M377.50,217.40 v-4.0 M380.50,217.40 v-4.0" fill="none" stroke="#929292" stroke-width="1.0"/>
<path d="M389.50,227.50 v-4.0" fill="none" stroke="#929292" stroke-width="1.0"/>
<path d="M395.50,233.30 v-4.0 M399.50,233.30 v-4.0 M402.50,233.30 v-4.0 M406.50,233.30 v-4.0 M409.50,233.30 v-4.0 M411.50,233.30 v-4.0 M415.50,233.30 v-4.0 M417.50,233.30 v-4.0 M424.50,233.30 v-4.0 M425.50,233.30 v-4.0 M426.50,233.30 v-4.0 M434.50,233.30 v-4.0 M442.50,233.30 v-4.0" fill="none" stroke="#929292" stroke-width="1.0"/>
<path d="M312.60,212.20 L317.90,212.20 L317.90,213.60 L319.40,213.60 L319.40,216.50 L320.00,216.50 L320.00,219.50 L320.60,219.50 L320.60,222.50 L321.20,222.50 L321.20,225.50 L321.90,225.50 L321.90,228.70 L324.80,228.70 L324.80,230.70 L326.30,230.70 L326.30,233.20 L327.80,233.20 L327.80,235.60 L331.70,235.60 L331.70,237.60 L335.20,237.60 L335.20,240.50 L336.70,240.50 L336.70,243.80 L348.60,243.80 L348.60,246.50 L354.00,246.50 L354.00,249.90 L358.00,249.90 L358.00,251.50 L361.40,251.50 L361.40,253.30 L363.50,253.30 L363.50,258.30 L382.50,258.30 L382.50,259.80 L384.00,259.80 L384.00,262.50 L385.50,262.50 L385.50,265.50 L387.00,265.50 L387.00,268.50 L388.50,268.50 L388.50,271.50 L390.10,271.50 L390.10,274.50" fill="none" stroke="#111" stroke-width="1.8"/>
<path d="M390.10,274.50 L435.60,274.50" fill="none" stroke="#111" stroke-width="1.8" stroke-dasharray="6 2.5"/>
<path d="M324.50,230.70 v-4.7" fill="none" stroke="#111" stroke-width="1.0"/>
<path d="M329.50,235.60 v-4.7" fill="none" stroke="#111" stroke-width="1.0"/>
<path d="M334.50,237.60 v-4.7" fill="none" stroke="#111" stroke-width="1.0"/>
<path d="M346.50,243.80 v-4.7 M348.50,243.80 v-4.7" fill="none" stroke="#111" stroke-width="1.0"/>
<path d="M366.50,258.30 v-4.7 M368.50,258.30 v-4.7 M374.50,258.30 v-4.7 M378.50,258.30 v-4.7 M381.50,258.30 v-4.7 M382.50,258.30 v-4.7" fill="none" stroke="#111" stroke-width="1.0"/>
<path d="M394.50,274.50 v-4.7 M396.50,274.50 v-4.7 M398.50,274.50 v-4.7 M400.50,274.50 v-4.7 M402.50,274.50 v-4.7 M404.50,274.50 v-4.7 M406.50,274.50 v-4.7 M407.50,274.50 v-4.7 M411.50,274.50 v-4.7 M415.50,274.50 v-4.7 M418.50,274.50 v-4.7 M421.50,274.50 v-4.7 M424.50,274.50 v-4.7 M434.50,274.50 v-4.7 M435.50,274.50 v-4.7" fill="none" stroke="#111" stroke-width="1.0"/>
<line x1="392.3" y1="297.7" x2="410.0" y2="297.7" stroke="#111" stroke-width="1.5"/>
<line x1="401.4" y1="297.7" x2="401.4" y2="292.7" stroke="#111" stroke-width="1.2"/>
<text transform="translate(412.5,301.4) scale(1.0,1)" font-size="9.7">Low: 23 (19%)</text>
<text transform="translate(476.8,301.4) scale(1.0,1)" font-size="9.7">Cens.: 22</text>
<line x1="392.3" y1="310.3" x2="410.0" y2="310.3" stroke="#929292" stroke-width="1.5"/>
<line x1="401.4" y1="310.3" x2="401.4" y2="305.3" stroke="#929292" stroke-width="1.2"/>
<text transform="translate(412.5,313.6) scale(1.0,1)" font-size="9.7">Int.:</text>
<text transform="translate(436.9,313.6) scale(1.0,1)" font-size="9.7">41 (34%)</text>
<text transform="translate(479.3,313.6) scale(1.0,1)" font-size="9.7">Cens.: 36</text>
<line x1="393.1" y1="321.4" x2="398.6" y2="321.4" stroke="#111" stroke-width="1.5"/>
<path d="M402.29999999999995,317.0 V321.4 H408.8" fill="none" stroke="#111" stroke-width="1.5"/>
<rect x="410.3" y="320.7" width="1.2" height="1.4" fill="#111"/>
<text transform="translate(412.4,324.3) scale(1.0,1)" font-size="9.7">High: 55 (46%)</text>
<text transform="translate(479.3,324.3) scale(1.0,1)" font-size="9.7">Cens.: 29</text>
<text x="318.0" y="324.1" font-size="10.1" font-style="italic">P</text><text x="328.4" y="324.1" font-size="10.1">&lt;</text><text x="337.2" y="324.1" font-size="10.4" textLength="27.6" lengthAdjust="spacingAndGlyphs">.0001</text>
</svg>
</body></html>
